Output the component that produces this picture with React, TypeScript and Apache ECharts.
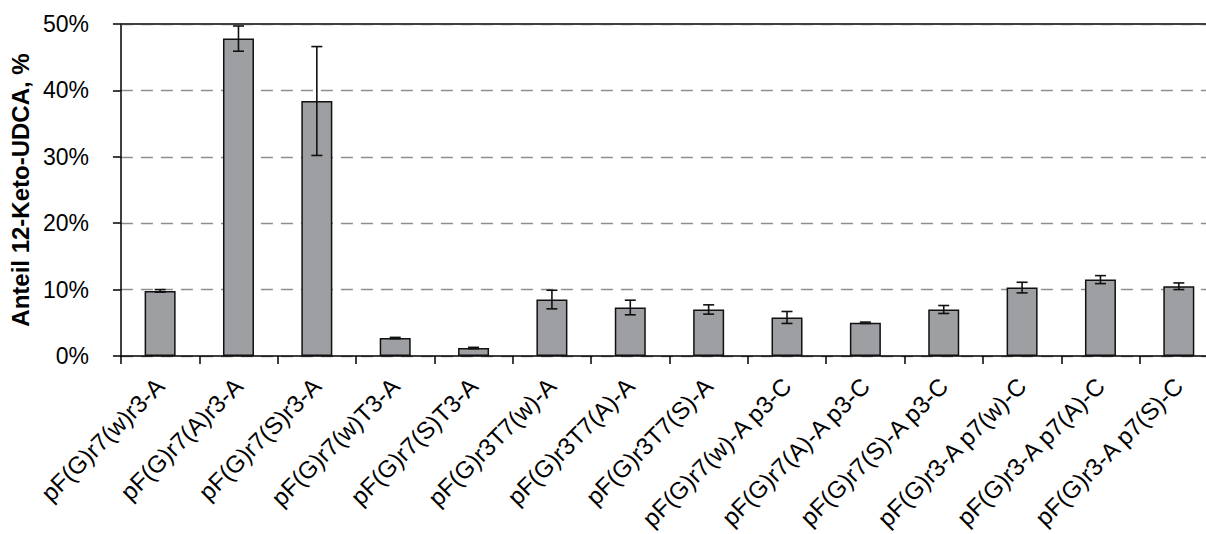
import React, { useEffect, useRef } from "react";
import * as echarts from "echarts";

// Construct names on the category axis
const categories = [
  "pF(G)r7(w)r3-A",
  "pF(G)r7(A)r3-A",
  "pF(G)r7(S)r3-A",
  "pF(G)r7(w)T3-A",
  "pF(G)r7(S)T3-A",
  "pF(G)r3T7(w)-A",
  "pF(G)r3T7(A)-A",
  "pF(G)r3T7(S)-A",
  "pF(G)r7(w)-A p3-C",
  "pF(G)r7(A)-A p3-C",
  "pF(G)r7(S)-A p3-C",
  "pF(G)r3-A p7(w)-C",
  "pF(G)r3-A p7(A)-C",
  "pF(G)r3-A p7(S)-C",
];

// Mean share of 12-keto-UDCA (%) per construct
const meanValues = [9.8, 47.8, 38.4, 2.7, 1.2, 8.5, 7.3, 7.0, 5.8, 5.0, 7.0, 10.3, 11.5, 10.5];

// Standard deviation (%) per construct
const stdDev = [0.2, 1.9, 8.2, 0.1, 0.1, 1.4, 1.1, 0.7, 0.9, 0.1, 0.6, 0.8, 0.6, 0.5];

// Value axis range and step
const yMin = 0;
const yMax = 50;
const yStep = 10;

const FONT = "'Liberation Sans', Arial, sans-serif";

export default function App() {
  const ref = useRef<HTMLDivElement>(null);

  useEffect(() => {
    if (!ref.current) return;
    const chart = echarts.init(ref.current, null, { renderer: "svg" });

    const errorData = meanValues.map((v, i) => [i, v - stdDev[i], v + stdDev[i]]);

    chart.setOption({
      animation: false,
      backgroundColor: "#ffffff",
      grid: { left: 118, top: 24, right: 12, bottom: 176, containLabel: false },
      xAxis: {
        type: "category",
        data: categories,
        axisLine: { lineStyle: { color: "#000000", width: 1.5 } },
        axisTick: { show: true, alignWithLabel: false, length: 8, lineStyle: { color: "#000000", width: 1.5 } },
        axisLabel: {
          rotate: 45,
          margin: 26,
          interval: 0,
          color: "#000000",
          fontFamily: FONT,
          fontSize: 24,
        },
        splitLine: { show: false },
      },
      yAxis: {
        type: "value",
        min: yMin,
        max: yMax,
        interval: yStep,
        name: "Anteil 12-Keto-UDCA, %",
        nameLocation: "middle",
        nameGap: 88,
        nameTextStyle: {
          fontFamily: FONT,
          fontSize: 24,
          fontWeight: "bold",
          color: "#000000",
        },
        axisLine: { show: true, lineStyle: { color: "#000000", width: 1.5 } },
        axisTick: { show: true, length: 8, lineStyle: { color: "#000000", width: 1.5 } },
        axisLabel: {
          formatter: "{value}%",
          margin: 32,
          color: "#000000",
          fontFamily: FONT,
          fontSize: 23,
        },
        splitLine: {
          show: true,
          lineStyle: { color: "#8e8e8e", width: 1.4, type: [12, 8] },
        },
      },
      series: [
        {
          type: "bar",
          data: meanValues,
          barWidth: 31,
          itemStyle: { color: "#9d9fa2", borderColor: "#111111", borderWidth: 1.5 },
          z: 2,
          // Solid frame line along the top of the plot area
          markLine: {
            silent: true,
            symbol: "none",
            label: { show: false },
            lineStyle: { color: "#404040", width: 2, type: "solid" },
            data: [{ yAxis: yMax }],
          },
        },
        {
          type: "custom",
          data: errorData,
          z: 3,
          renderItem: (params: any, api: any) => {
            const x = api.value(0);
            const lo = api.coord([x, api.value(1)]);
            const hi = api.coord([x, api.value(2)]);
            const half = 5.5;
            const style = { stroke: "#111111", lineWidth: 1.6, fill: "none" };
            return {
              type: "group",
              children: [
                { type: "line", shape: { x1: hi[0], y1: hi[1], x2: lo[0], y2: lo[1] }, style },
                { type: "line", shape: { x1: hi[0] - half, y1: hi[1], x2: hi[0] + half, y2: hi[1] }, style },
                { type: "line", shape: { x1: lo[0] - half, y1: lo[1], x2: lo[0] + half, y2: lo[1] }, style },
              ],
            };
          },
        },
      ],
    });

    return () => chart.dispose();
  }, []);

  // The drawing area runs a little past the right edge of the page
  return (
    <div
      ref={ref}
      style={{ position: "fixed", left: 0, top: 0, width: 1230, height: 534, background: "#fff" }}
    />
  );
}
